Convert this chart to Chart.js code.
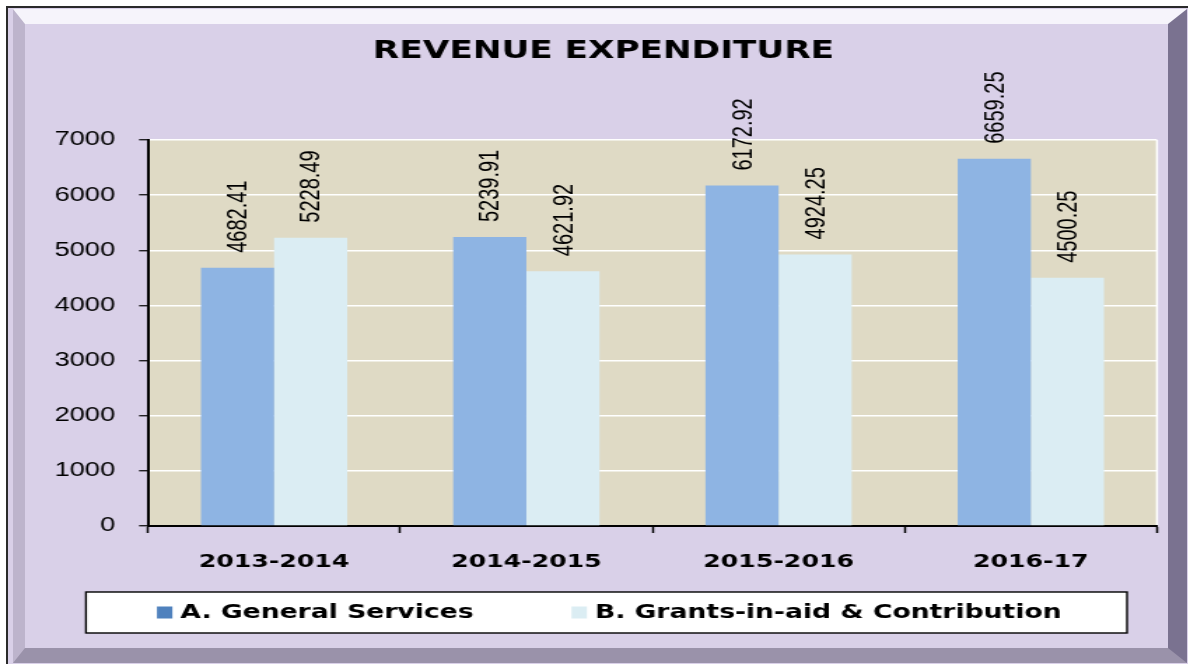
<!DOCTYPE html>
<html><head><meta charset="utf-8">
<script src="https://cdn.jsdelivr.net/npm/chart.js@4.4.1/dist/chart.umd.min.js"></script>
<style>
html,body{margin:0;padding:0;background:#fff;width:1190px;height:666px;overflow:hidden;}
#frame{position:absolute;left:6px;top:6px;width:1182px;height:658px;box-sizing:border-box;border-left:2px solid #2a2a2a;border-top:2px solid #2a2a2a;background:#d9d0e8;}
#bevel{position:absolute;left:5px;top:1px;right:1px;bottom:1px;box-sizing:border-box;border-style:solid;border-width:15px 19px 15px 12px;border-color:#f6f4fb #7a7290 #9a92aa #bdb4cc;}
#c{position:absolute;left:0;top:0;width:1190px;height:666px;}
</style></head><body>
<div id="frame"><div id="bevel"></div></div>
<canvas id="c" width="850" height="666" style="width:1190px;height:666px;"></canvas>
<script>
const categories = ['2013-2014', '2014-2015', '2015-2016', '2016-17'];
const generalServices = [4682.41, 5239.91, 6172.92, 6659.25];
const grantsInAid = [5228.49, 4621.92, 4924.25, 4500.25];
const seriesNames = ['A. General Services', 'B. Grants-in-aid & Contribution'];
const yTicks = [0, 1000, 2000, 3000, 4000, 5000, 6000, 7000];
const chartTitle = 'REVENUE EXPENDITURE';

const barColors = ['#8eb4e3', '#dbedf3'];
const legendSwatch = ['#4f81bd', '#dbedf3'];

const plotBg = {
  id: 'plotBg',
  beforeDraw(chart) {
    const { ctx, chartArea: a } = chart;
    ctx.save();
    ctx.fillStyle = '#dfdac5';
    ctx.fillRect(a.left, a.top, a.width, a.height);
    ctx.strokeStyle = '#ffffff';
    ctx.lineWidth = 1.5;
    ctx.beginPath();
    ctx.moveTo(a.right, a.top);
    ctx.lineTo(a.right, a.bottom);
    ctx.stroke();
    ctx.restore();
  }
};

const barLabels = {
  id: 'barLabels',
  afterDatasetsDraw(chart) {
    const ctx = chart.ctx;
    chart.data.datasets.forEach((ds, i) => {
      const meta = chart.getDatasetMeta(i);
      meta.data.forEach((bar, j) => {
        ctx.save();
        ctx.translate(bar.x + 1, bar.y - 15);
        ctx.rotate(-Math.PI / 2);
        ctx.font = '20px "Liberation Sans", Arial, sans-serif';
        ctx.fillStyle = '#000';
        ctx.textAlign = 'left';
        ctx.textBaseline = 'middle';
        ctx.fillText(ds.data[j].toFixed(2), 0, 0);
        ctx.restore();
      });
    });
  }
};

const boxLegend = {
  id: 'boxLegend',
  afterDraw(chart) {
    const ctx = chart.ctx;
    const top = chart.scales.x.bottom + 18.4;
    const h = 41, left = 61.4, right = 805;
    ctx.save();
    ctx.fillStyle = '#fff';
    ctx.fillRect(left, top, right - left, h);
    ctx.strokeStyle = '#000';
    ctx.lineWidth = 1.4;
    ctx.strokeRect(left, top, right - left, h);
    ctx.font = 'bold 19px "DejaVu Sans", sans-serif';
    const boxW = 11, boxH = 12, gapT = 5.7, gapItems = 70;
    const items = chart.data.datasets.map((ds, i) => ({
      text: ds.label, color: legendSwatch[i], w: boxW + gapT + ctx.measureText(ds.label).width
    }));
    const total = items.reduce((s, it) => s + it.w, 0) + gapItems * (items.length - 1);
    let x = (left + right) / 2 - total / 2 + 2;
    const cy = top + h / 2;
    items.forEach(it => {
      ctx.fillStyle = it.color;
      ctx.fillRect(x, cy - boxH / 2, boxW, boxH);
      ctx.fillStyle = '#000';
      ctx.textAlign = 'left';
      ctx.textBaseline = 'middle';
      ctx.fillText(it.text, x + boxW + gapT, cy + 1);
      x += it.w + gapItems;
    });
    ctx.restore();
  }
};

new Chart(document.getElementById('c'), {
  type: 'bar',
  data: {
    labels: categories,
    datasets: [
      { label: seriesNames[0], data: generalServices, backgroundColor: barColors[0], borderWidth: 0 },
      { label: seriesNames[1], data: grantsInAid, backgroundColor: barColors[1], borderWidth: 0 }
    ]
  },
  options: {
    responsive: false,
    devicePixelRatio: 1,
    animation: false,
    datasets: { bar: { categoryPercentage: 0.58, barPercentage: 1.0 } },
    layout: { padding: { top: 27, left: 35.7, right: 23.6, bottom: 92.4 } },
    plugins: {
      legend: { display: false },
      tooltip: { enabled: false },
      title: {
        display: true,
        text: chartTitle,
        color: '#000',
        font: { family: '"DejaVu Sans", sans-serif', size: 24.5, weight: 'bold', lineHeight: 1.2 },
        padding: { top: 10, bottom: 73.6 }
      }
    },
    scales: {
      x: {
        offset: true,
        grid: { display: true, offset: true, drawOnChartArea: false, tickLength: 7, tickColor: '#000', tickWidth: 1.5 },
        border: { display: true, color: '#000', width: 2 },
        ticks: { color: '#000', padding: 19, font: { family: '"DejaVu Sans", sans-serif', size: 18, weight: 'bold' } },
        afterFit(s) { s.height = 47.6; }
      },
      y: {
        min: 0, max: 7000,
        afterBuildTicks(s) { s.ticks = yTicks.map(v => ({ value: v })); },
        grid: { color: '#ffffff', lineWidth: 1.5, tickLength: 6.4, tickColor: '#000', tickWidth: 1.2 },
        border: { display: true, color: '#000', width: 2 },
        ticks: { color: '#000', padding: 17, font: { family: '"Liberation Sans", Arial, sans-serif', size: 19.5 }, callback: v => String(v) },
        afterFit(s) { s.width = 70; }
      }
    }
  },
  plugins: [plotBg, barLabels, boxLegend]
});
</script>
</body></html>
